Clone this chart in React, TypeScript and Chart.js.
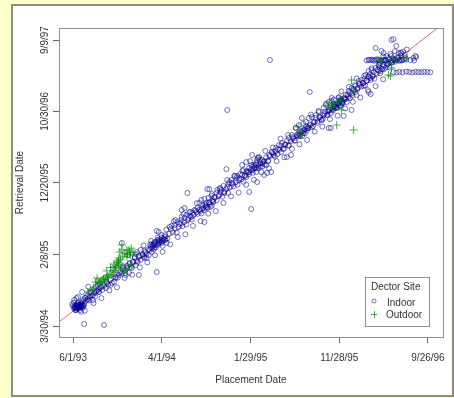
import React, { useEffect, useRef } from "react";
import { Chart, registerables } from "chart.js";

Chart.register(...registerables);

// All dates are stored as day numbers counted from 6/1/93 (day 0).
const xTickValues = [0, 304, 607, 910, 1213];
const xTickLabels = ["6/1/93", "4/1/94", "1/29/95", "11/28/95", "9/26/96"];
const yTickValues = [302, 617, 932, 1247, 1561];
const yTickLabels = ["3/30/94", "2/8/95", "12/20/95", "10/30/96", "9/9/97"];

const xTitle = "Placement Date";
const yTitle = "Retrieval Date";
const legendTitle = "Dector Site";
const seriesNames = ["Indoor", "Outdoor"];

// [placement day, retrieval day]
const indoorPoints: number[][] = [
  [-3, 399], [0, 391], [4, 417], [7, 382], [10, 395], [14, 377], [17, 404], [21, 386], [24, 395], [24, 373],
  [27, 408], [31, 391], [34, 417], [38, 399], [41, 426], [44, 413], [48, 435], [51, 421], [55, 448], [58, 430],
  [61, 452], [65, 439], [68, 417], [72, 466], [75, 448], [78, 475], [82, 457], [85, 483], [89, 466], [92, 488],
  [31, 452], [17, 430], [38, 311], [106, 307], [5, 388], [9, 380], [12, 390], [15, 385], [19, 396], [3, 405],
  [8, 372], [26, 384], [29, 400], [36, 388],
  [89, 452], [99, 474], [112, 470], [116, 492], [129, 483], [140, 496], [146, 514], [157, 527], [163, 540], [180, 527],
  [191, 536], [201, 558], [214, 571], [225, 527], [231, 637], [242, 606], [248, 628], [252, 602], [259, 615], [269, 628],
  [276, 641], [286, 540], [286, 721], [293, 681], [303, 690], [316, 681], [320, 668], [167, 668], [218, 628], [170, 558],
  [177, 549], [184, 567], [194, 580], [204, 584], [211, 602], [221, 584], [228, 611], [238, 619], [245, 602], [262, 637],
  [279, 650], [289, 659], [296, 668], [306, 655], [313, 681],
  [272, 655], [279, 672], [289, 690], [303, 668], [313, 695], [330, 738], [347, 747], [357, 760], [371, 769], [381, 778],
  [388, 791], [405, 782], [408, 800], [422, 804], [432, 844], [439, 857], [449, 760], [456, 844], [466, 848], [476, 857],
  [490, 888], [500, 879], [507, 901], [517, 892], [527, 914], [534, 936], [544, 932], [558, 954], [568, 945], [578, 967],
  [592, 980], [602, 998], [612, 1002], [626, 1020], [629, 1033], [371, 813], [381, 822], [391, 888], [524, 993], [592, 1024],
  [602, 892], [609, 817], [459, 905], [466, 905], [337, 743], [350, 769], [364, 751], [378, 795], [395, 778], [401, 805],
  [415, 813], [425, 822], [442, 835], [452, 831], [463, 866], [473, 875], [483, 870], [493, 901], [503, 910], [514, 919],
  [531, 927], [541, 945], [551, 963], [561, 963], [571, 971], [582, 989], [588, 963], [599, 980], [609, 1011], [619, 1007],
  [633, 1042], [639, 1033],
  [612, 1055], [636, 1046], [646, 1033], [660, 1011], [677, 980], [670, 1055], [680, 1068], [694, 1086], [704, 1099], [711, 1068],
  [714, 1108], [731, 1046], [745, 1055], [738, 1130], [748, 1143], [762, 1174], [772, 1187], [782, 1218], [796, 1200], [806, 1218],
  [813, 1187], [816, 1222], [830, 1231], [840, 1244], [850, 1209], [857, 1262], [864, 1275], [874, 1288], [881, 1174], [884, 1306],
  [898, 1275], [908, 1310], [918, 1297], [932, 1319], [935, 1288], [809, 1332], [626, 980], [602, 980], [578, 1011], [619, 1011],
  [629, 936], [592, 958], [653, 967], [663, 976], [650, 1025], [667, 1028], [684, 1060], [690, 1048], [700, 1080], [720, 1082],
  [725, 1101], [735, 1096], [752, 1128], [758, 1118], [768, 1142], [776, 1138], [786, 1160], [792, 1150], [800, 1172], [820, 1182],
  [826, 1201], [836, 1196], [845, 1220], [854, 1214], [860, 1236], [870, 1230], [878, 1254], [888, 1250], [894, 1268], [904, 1265],
  [912, 1290], [922, 1286], [928, 1305],
  [884, 1293], [898, 1262], [908, 1306], [918, 1284], [942, 1337], [952, 1350], [966, 1359], [969, 1319], [976, 1381], [986, 1385],
  [993, 1359], [1000, 1407], [1010, 1425], [1017, 1394], [1020, 1429], [1034, 1438], [1044, 1451], [1051, 1425], [1054, 1469], [1068, 1473],
  [1071, 1460], [1078, 1482], [1088, 1491], [1102, 1473], [1112, 1482], [1122, 1473], [1136, 1482], [1119, 1504], [1034, 1526], [1054, 1513],
  [1061, 1504], [1088, 1561], [1105, 1535], [1112, 1504], [1163, 1482], [1170, 1491], [925, 1227], [952, 1253], [1010, 1332], [1017, 1323],
  [874, 1174],
  [1003, 1471], [1013, 1474], [1024, 1472], [1034, 1475], [1044, 1473], [1064, 1471], [1098, 1474], [1126, 1472], [1139, 1475], [1153, 1473],
  [1166, 1471],
  [1095, 1420], [1105, 1418], [1115, 1421], [1126, 1419], [1139, 1422], [1149, 1420], [1160, 1418], [1170, 1421], [1180, 1420], [1190, 1419],
  [1200, 1421], [1211, 1420], [1221, 1419],
  [1095, 1565], [1122, 1504], [1173, 1486],
  [890, 1280], [900, 1275], [912, 1295], [915, 1270], [928, 1300], [940, 1310], [945, 1330], [955, 1318], [960, 1340], [962, 1362],
  [972, 1345], [980, 1370], [990, 1372], [996, 1390], [1004, 1382], [1008, 1400], [1014, 1410], [1024, 1402], [1028, 1420], [1040, 1430],
  [1047, 1440], [1058, 1445], [1062, 1432], [1075, 1455], [1082, 1465], [1092, 1462],
  [527, 1253], [673, 1473],
  // dense core along the diagonal
  [3, 379], [10, 372], [16, 396], [23, 389], [29, 403], [36, 394], [42, 426], [49, 420], [55, 415], [62, 450],
  [68, 437], [75, 431], [81, 458], [88, 452], [94, 476], [101, 462], [107, 480], [114, 500], [120, 485], [127, 505],
  [133, 492], [140, 530], [146, 518], [153, 515], [159, 540], [166, 534], [172, 565], [179, 536], [185, 560], [192, 575],
  [198, 562], [205, 584], [211, 607], [218, 588], [224, 609], [231, 594], [237, 614], [244, 633], [250, 619], [257, 639],
  [263, 661], [270, 644], [276, 662], [283, 648], [289, 681], [296, 674], [302, 703], [309, 681], [315, 702], [322, 688],
  [328, 708], [335, 729], [341, 714], [348, 733], [354, 714], [361, 738], [367, 756], [374, 742], [380, 761], [387, 749],
  [393, 769], [400, 787], [406, 771], [413, 792], [419, 811], [426, 796], [432, 815], [439, 798], [445, 820], [452, 838],
  [458, 825], [465, 845], [471, 827], [478, 851], [484, 868], [491, 855], [497, 875], [504, 893], [510, 871], [517, 888],
  [523, 905], [530, 888], [536, 912], [543, 930], [549, 917], [556, 935], [562, 924], [569, 953], [575, 947], [582, 937],
  [588, 965], [595, 985], [601, 970], [608, 989], [614, 977], [621, 996], [627, 1013], [634, 1000], [640, 1018], [647, 1004],
  [653, 1027], [660, 1045], [666, 1030], [673, 1050], [679, 1067], [686, 1054], [692, 1072], [699, 1059], [705, 1078], [712, 1096],
  [718, 1083], [725, 1101], [731, 1118], [738, 1097], [744, 1116], [751, 1133], [757, 1119], [764, 1142], [770, 1137], [777, 1160],
  [783, 1139], [790, 1164], [796, 1182], [803, 1173], [809, 1188], [816, 1177], [822, 1199], [829, 1218], [835, 1203], [842, 1223],
  [848, 1211], [855, 1230], [861, 1246], [868, 1233], [874, 1252], [881, 1239], [887, 1260], [894, 1278], [900, 1266], [907, 1283],
  [913, 1300], [920, 1282], [926, 1305], [933, 1302], [939, 1321], [946, 1306], [952, 1326], [959, 1345], [965, 1332], [972, 1349],
  [978, 1368], [985, 1356], [991, 1372], [998, 1361], [1004, 1382], [1011, 1399], [1017, 1385], [1024, 1404], [1030, 1391], [1037, 1412],
  [1043, 1428], [1050, 1415], [1056, 1433], [1063, 1452], [1069, 1439], [1076, 1455], [1082, 1441], [1089, 1463], [1095, 1478], [1102, 1466],
  [1108, 1484], [1115, 1471], [1121, 1494], [1128, 1510], [1134, 1496], [1141, 1519],
  // darker clusters
  [6, 385], [11, 392], [13, 381], [18, 388], [20, 379], [22, 394], [25, 390], [28, 386], [30, 395], [33, 383],
  [265, 650], [268, 662], [274, 658], [278, 668], [282, 660], [287, 673], [292, 666], [298, 680], [305, 676], [310, 688],
  [435, 808], [440, 818], [447, 812], [454, 826], [460, 822], [468, 838], [474, 832], [480, 848],
  [615, 990], [622, 1000], [628, 996], [634, 1008], [641, 1004], [648, 1018], [655, 1014],
  [770, 1150], [775, 1145], [781, 1158], [787, 1152], [793, 1168], [799, 1162], [805, 1176],
  [872, 1246], [879, 1262], [886, 1255], [893, 1270], [899, 1262], [906, 1280], [913, 1274], [920, 1292],
  [1010, 1473], [1020, 1475], [1030, 1470], [1040, 1476], [1050, 1472], [1060, 1474], [1070, 1470], [1080, 1476], [1090, 1471], [1108, 1475],
  [1118, 1470], [1130, 1476], [1071, 1490], [1085, 1500], [1100, 1512], [1060, 1488], [1048, 1460], [1092, 1480],
  // wider scatter around the diagonal
  [12, 425], [27, 365], [40, 370], [52, 475], [70, 403], [84, 500], [97, 425], [110, 516], [124, 459], [137, 557],
  [150, 473], [163, 571], [176, 514], [189, 615], [202, 528], [215, 619], [228, 560], [241, 657], [254, 582], [267, 677],
  [280, 614], [293, 716], [306, 629], [319, 727], [332, 662], [345, 763], [358, 694], [371, 783], [384, 706], [397, 803],
  [410, 743], [423, 843], [436, 764], [449, 862], [462, 797], [475, 883], [488, 808], [501, 905], [514, 844], [527, 945],
  [540, 873], [553, 963], [566, 890], [579, 985], [592, 924], [605, 1028], [618, 946], [631, 1043], [644, 979], [657, 1073],
  [670, 996], [683, 1088], [696, 1028], [709, 1127], [722, 1045], [735, 1143], [748, 1082], [761, 1175], [774, 1102], [787, 1193],
  [800, 1121], [813, 1233], [826, 1158], [839, 1249], [852, 1180], [865, 1281], [878, 1213], [891, 1299], [904, 1228], [917, 1335],
  [930, 1260], [943, 1355], [956, 1289], [969, 1392], [982, 1308], [995, 1403], [1008, 1340], [1021, 1437], [1034, 1358], [1047, 1453],
  [1060, 1388],
];

const outdoorPoints: number[][] = [
  [82, 514], [99, 505], [78, 496], [122, 518], [133, 527], [150, 584], [157, 602], [163, 558], [167, 637], [180, 549],
  [191, 637], [184, 606], [197, 615], [174, 540], [146, 558], [112, 514], [89, 492], [157, 571], [191, 562], [201, 571],
  [92, 492], [153, 580], [167, 659], [184, 637], [160, 628], [65, 461], [51, 452],
  [70, 470], [95, 500], [104, 510], [108, 498], [118, 522], [126, 530], [137, 540], [142, 548], [148, 566], [155, 590],
  [162, 596], [170, 610], [176, 622], [186, 618], [193, 628], [199, 645], [205, 625], [140, 575], [128, 560], [115, 545],
  [772, 1178], [782, 1143], [779, 1156], [874, 1275], [891, 1266], [884, 1284], [901, 1187], [918, 1253], [908, 1288],
  [952, 1385], [959, 1337], [918, 1297], [884, 1271], [959, 1165], [1044, 1469], [1085, 1473], [1085, 1403], [1139, 1482],
  [1078, 1407], [1054, 1469], [1088, 1438], [1105, 1478],
];

// Reference line (retrieval = placement + about one year)
const fitLine: number[][] = [
  [-60, 308],
  [1290, 1658],
];

const FONT = "'Liberation Sans', Arial, Helvetica, sans-serif";
const TEXT = "#333333";
const INDOOR = "rgba(0, 0, 150, 0.55)";
const OUTDOOR = "rgba(0, 140, 0, 0.7)";

const boxPlugin = {
  id: "plotBox",
  afterDatasetsDraw(chart: any) {
    const { ctx, chartArea: a } = chart;
    ctx.save();
    ctx.strokeStyle = "#8f8f8f";
    ctx.lineWidth = 1;
    ctx.strokeRect(Math.round(a.left) + 0.5, Math.round(a.top) + 0.5, Math.round(a.right - a.left), Math.round(a.bottom - a.top));
    ctx.restore();
  },
};

const legendPlugin = {
  id: "siteLegend",
  afterDraw(chart: any) {
    const { ctx, chartArea: a } = chart;
    const w = 64;
    const h = 49;
    const x0 = Math.round(a.right - 14 - w);
    const y0 = Math.round(a.bottom - 11 - h);
    ctx.save();
    ctx.fillStyle = "#ffffff";
    ctx.fillRect(x0, y0, w, h);
    ctx.strokeStyle = "#8f8f8f";
    ctx.lineWidth = 1;
    ctx.strokeRect(x0 + 0.5, y0 + 0.5, w, h);
    ctx.font = `10px ${FONT}`;
    ctx.fillStyle = TEXT;
    ctx.textAlign = "left";
    ctx.textBaseline = "middle";
    ctx.fillText(legendTitle, x0 + 6, y0 + 10);
    ctx.strokeStyle = INDOOR;
    ctx.beginPath();
    ctx.arc(x0 + 9, y0 + 24, 2, 0, Math.PI * 2);
    ctx.stroke();
    ctx.fillText(seriesNames[0], x0 + 22, y0 + 26);
    ctx.strokeStyle = OUTDOOR;
    ctx.beginPath();
    ctx.moveTo(x0 + 6, y0 + 37.5);
    ctx.lineTo(x0 + 12, y0 + 37.5);
    ctx.moveTo(x0 + 9.5, y0 + 34);
    ctx.lineTo(x0 + 9.5, y0 + 41);
    ctx.stroke();
    ctx.fillText(seriesNames[1], x0 + 21, y0 + 38);
    ctx.restore();
  },
};

export default function App() {
  const ref = useRef<HTMLCanvasElement | null>(null);

  useEffect(() => {
    if (!ref.current) return;
    Chart.defaults.font.family = FONT;
    Chart.defaults.font.size = 10;
    Chart.defaults.color = TEXT;
    const chart = new Chart(ref.current, {
      type: "scatter",
      data: {
        datasets: [
          {
            label: seriesNames[1],
            data: outdoorPoints.map(([x, y]) => ({ x, y })),
            pointStyle: "cross",
            pointRadius: 4,
            pointBorderWidth: 1,
            borderColor: OUTDOOR,
            backgroundColor: OUTDOOR,
          },
          {
            label: seriesNames[0],
            data: indoorPoints.map(([x, y]) => ({ x, y })),
            pointStyle: "circle",
            pointRadius: 2.5,
            pointBorderWidth: 1,
            borderColor: INDOOR,
            backgroundColor: "rgba(0,0,0,0)",
          },
          {
            type: "line",
            label: "reference",
            data: fitLine.map(([x, y]) => ({ x, y })),
            borderColor: "rgba(220, 80, 80, 0.85)",
            borderWidth: 1,
            pointRadius: 0,
            fill: false,
          } as any,
        ],
      },
      options: {
        animation: false,
        responsive: false,
        maintainAspectRatio: false,
        events: [],
        layout: { padding: { left: 0, top: 28, right: 9, bottom: 0 } },
        plugins: { legend: { display: false }, tooltip: { enabled: false } },
        scales: {
          x: {
            type: "linear",
            min: -48,
            max: 1264,
            afterBuildTicks: (s: any) => {
              s.ticks = xTickValues.map((v) => ({ value: v }));
            },
            afterFit: (s: any) => {
              s.height = 61;
            },
            ticks: {
              autoSkip: false,
              maxRotation: 0,
              minRotation: 0,
              padding: 9,
              color: TEXT,
              font: { size: 10, family: FONT },
              callback: (_v: any, i: number) => xTickLabels[i],
            },
            grid: { drawOnChartArea: false, drawTicks: true, tickLength: 6, color: "#666666" },
            border: { display: false },
            title: {
              display: true,
              text: xTitle,
              color: TEXT,
              font: { size: 10, family: FONT },
              padding: { top: 0, bottom: 12 },
            },
          },
          y: {
            type: "linear",
            min: 254,
            max: 1614,
            afterBuildTicks: (s: any) => {
              s.ticks = yTickValues.map((v) => ({ value: v }));
            },
            afterFit: (s: any) => {
              s.width = 59;
            },
            ticks: {
              autoSkip: false,
              minRotation: 90,
              maxRotation: 90,
              crossAlign: "center",
              padding: -12,
              color: TEXT,
              font: { size: 10, family: FONT },
              callback: (_v: any, i: number) => yTickLabels[i],
            },
            grid: { drawOnChartArea: false, drawTicks: true, tickLength: 6, color: "#666666" },
            border: { display: false },
            title: {
              display: true,
              text: yTitle,
              color: TEXT,
              font: { size: 10, family: FONT },
              padding: { top: 14, bottom: 0 },
            },
          },
        },
      } as any,
      plugins: [boxPlugin, legendPlugin],
    });
    return () => chart.destroy();
  }, []);

  return (
    <div
      style={{
        position: "fixed",
        left: 0,
        top: 0,
        width: 454,
        height: 398,
        background: "#FFFFCC",
        overflow: "hidden",
      }}
    >
      <div
        style={{
          position: "absolute",
          left: 11,
          top: 4,
          width: 439,
          height: 389,
          background: "#ffffff",
          border: "2px solid #8c8c80",
        }}
      />
      <canvas
        ref={ref}
        width={454}
        height={398}
        style={{ position: "absolute", left: 0, top: 0, width: 454, height: 398 }}
      />
    </div>
  );
}
